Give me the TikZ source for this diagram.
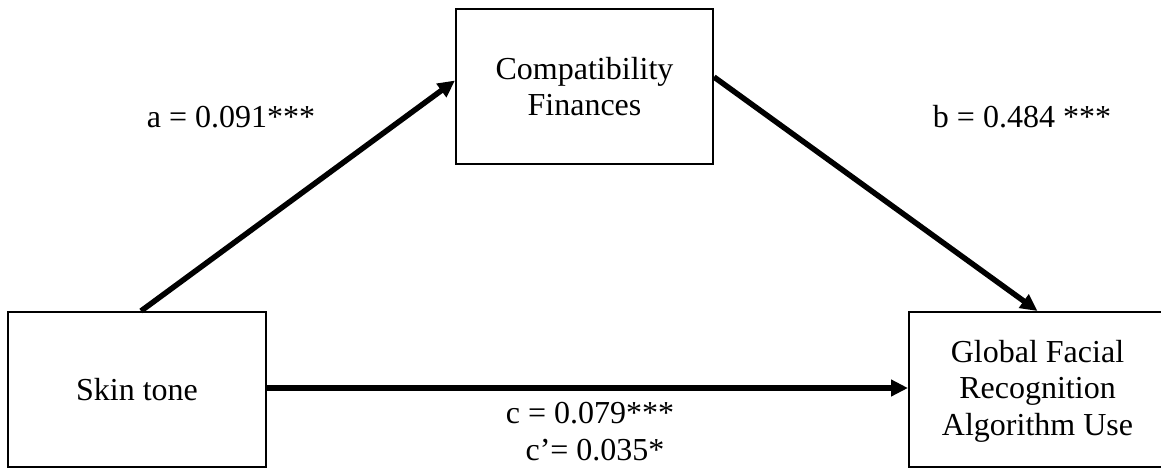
\documentclass[tikz,border=0pt]{standalone}
\usepackage{fontspec}
\setmainfont{Liberation Serif}
\usetikzlibrary{arrows.meta,calc}
\tikzset{
  boxnode/.style={draw=black, line width=2pt, minimum height=155pt, inner sep=0pt, align=center, font=\fontsize{32}{36.5}\selectfont},
  lab/.style={anchor=base, inner sep=0pt, font=\fontsize{32}{36.5}\selectfont},
  conn/.style={line width=5.5pt, -{Triangle[length=17pt,width=16pt]}}
}
\begin{document}
\begin{tikzpicture}[x=1pt,y=-1pt]
\useasboundingbox (0,0) rectangle (1161,469);
\clip (0,0) rectangle (1161,469);
\node[boxnode, minimum width=258pt] (skin) at (137,389.5) {Skin tone};
\node[boxnode, minimum width=257pt] (compat) at (584.5,86.5) {Compatibility\\Finances};
\node[boxnode, minimum width=257pt, text depth=4pt] (global) at (1037.5,389.5) {Global Facial\\Recognition\\Algorithm Use};
\draw[conn] ($(skin.north)+(4,0)$) -- ($(compat.west)+(0,-6)$);
\draw[conn] ($(compat.east)+(0,-9.5)$) -- (global.north);
\draw[conn] ($(skin.east)+(0,-1.5)$) -- ($(global.west)+(0,-1.5)$);
\node[lab] (la) at (231,127) {a = 0.091***};
\node[lab] (lb) at (1022,127) {b = 0.484 ***};
\node[lab] (lc) at (590,423) {c = 0.079***};
\node[lab] (lc2) at (595,460) {c’= 0.035*};
\end{tikzpicture}
\end{document}
